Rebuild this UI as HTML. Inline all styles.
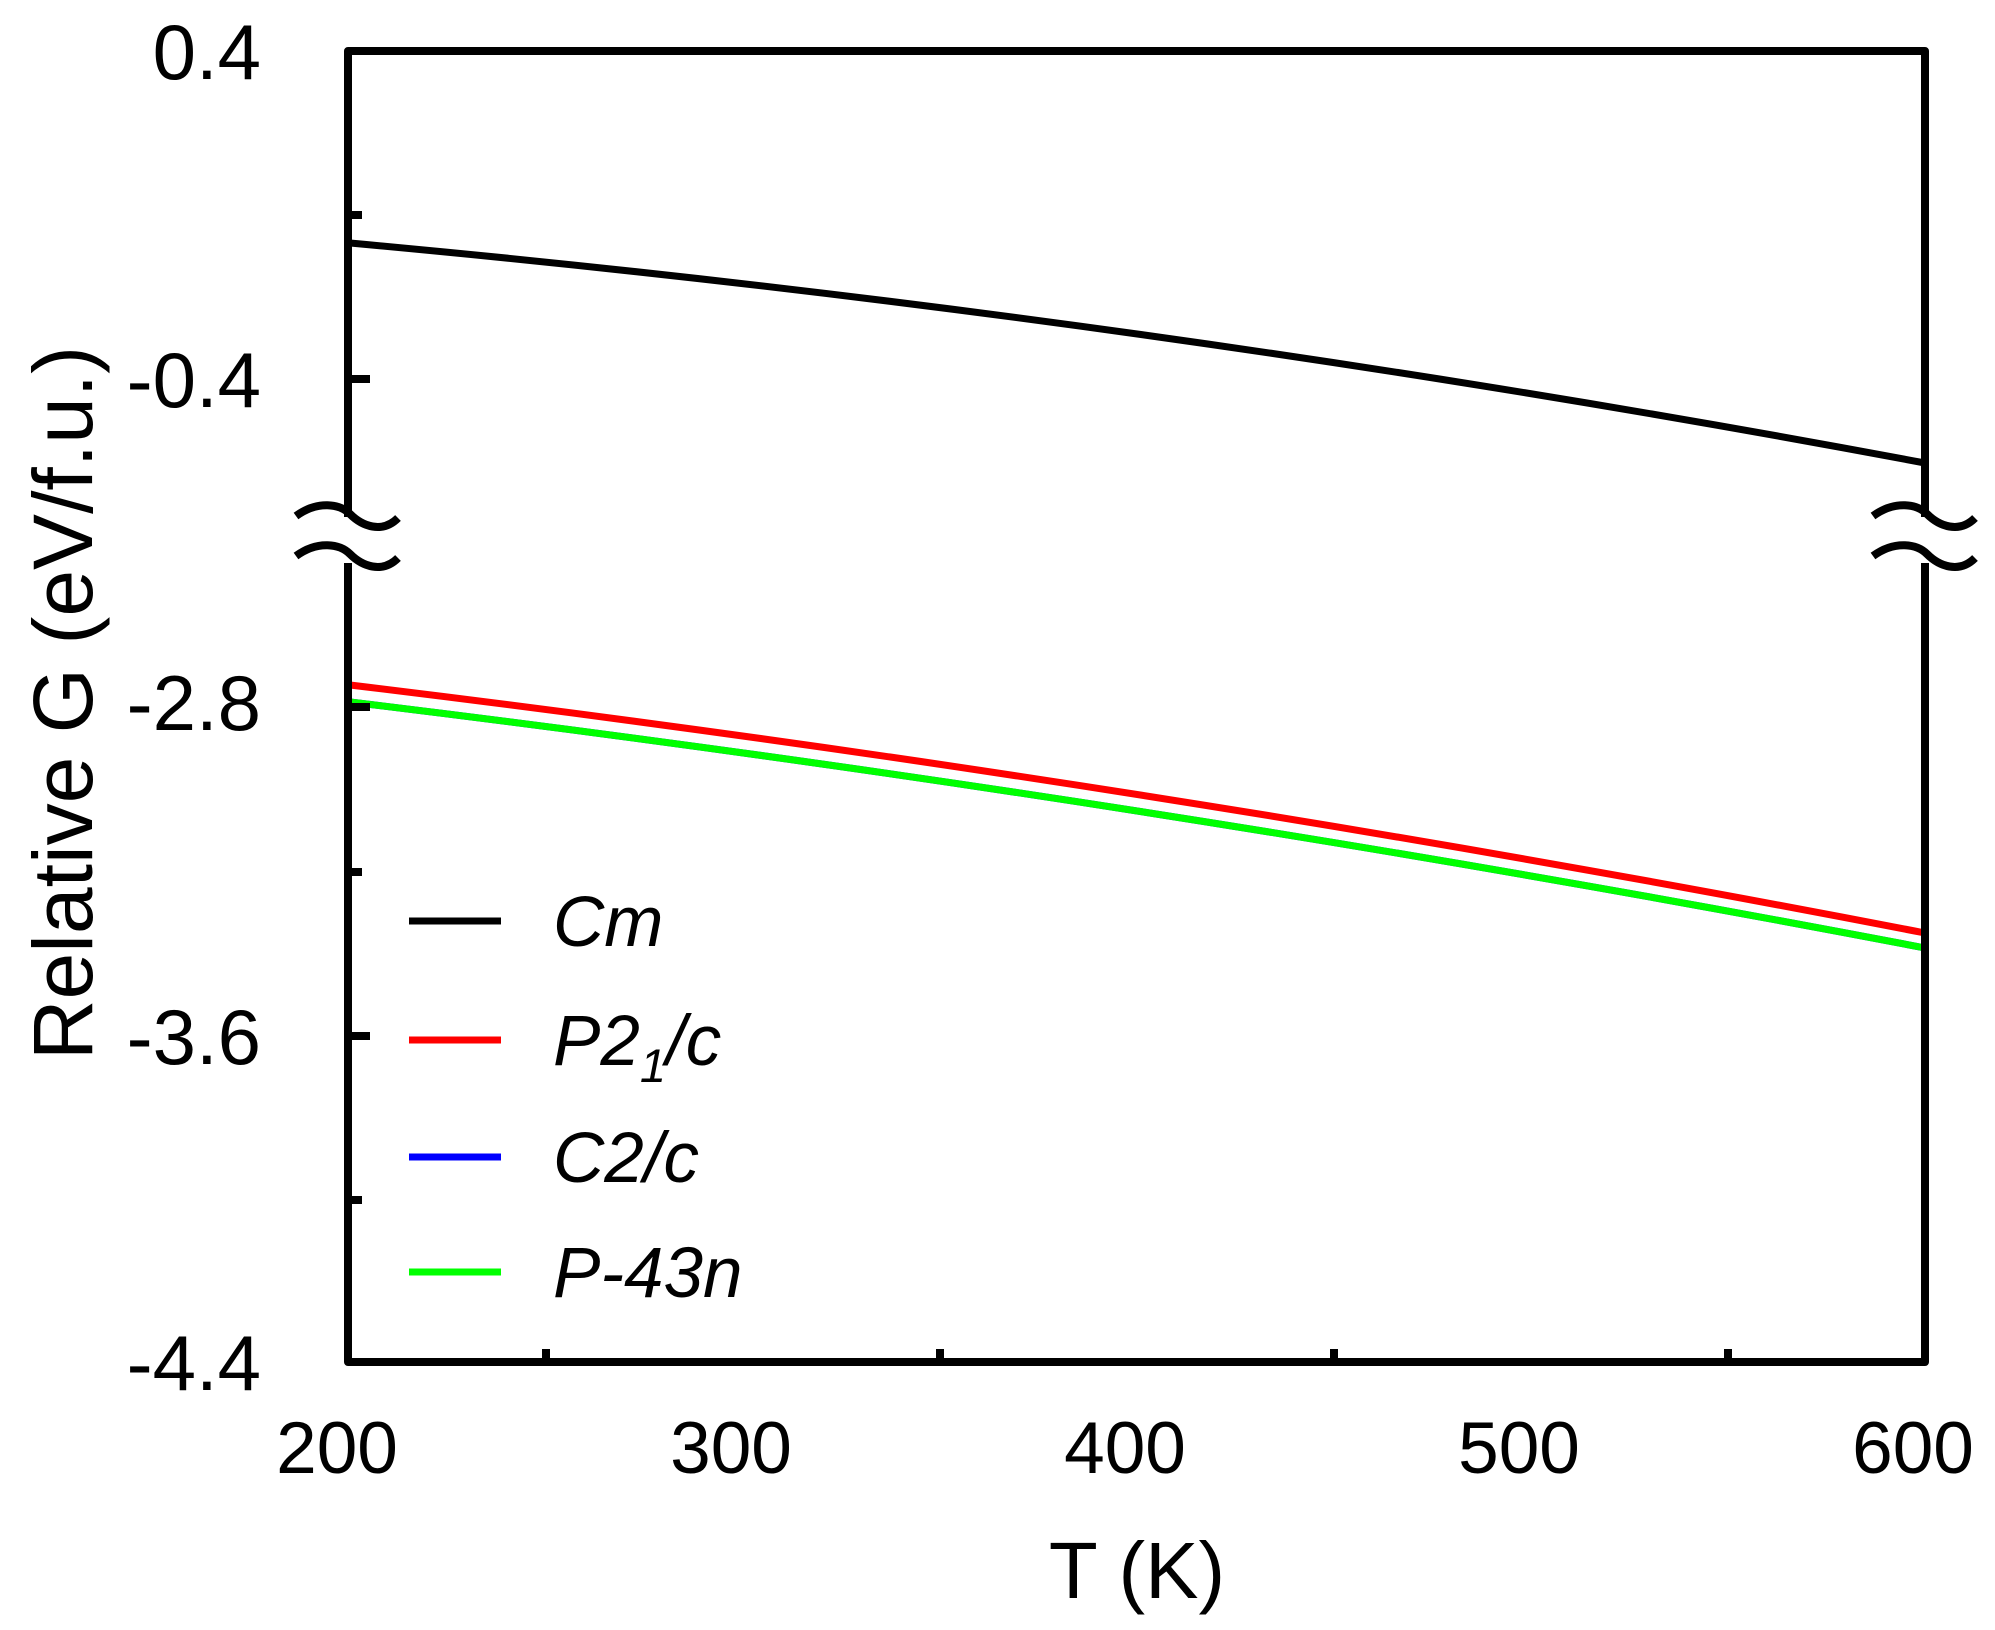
<!DOCTYPE html>
<html><head><meta charset="utf-8"><style>html,body{margin:0;padding:0;background:#fff}svg{display:block}</style></head>
<body>
<svg width="1995" height="1630" viewBox="0 0 1995 1630" xmlns="http://www.w3.org/2000/svg" font-family="Liberation Sans, Arial, sans-serif">
<rect width="1995" height="1630" fill="#fff"/>
<g fill="none" stroke-width="7" stroke-linecap="butt">
<path d="M350,243 Q1137,315 1925,463" stroke="#000"/>
<path d="M350,685 Q1137,780 1925,933" stroke="#ff0000"/>
<path d="M350,702 Q1137,797 1925,948" stroke="#0000ff"/>
<path d="M350,702 Q1137,797 1925,948" stroke="#00ff00"/>
</g>
<g stroke="#000" stroke-width="8" fill="none" stroke-linejoin="round">
<path d="M348,517 L348,51 L1925,51 L1925,517"/>
<path d="M348,563 L348,1362 L1925,1362 L1925,563"/>
<path d="M348,215 H362 M348,379 H370 M348,707 H370 M348,872 H362 M348,1036 H370 M348,1200 H362"/>
<path d="M546,1362 V1349 M940,1362 V1349 M1334,1362 V1349 M1728,1362 V1349"/>
</g>
<g fill="none" stroke="#000" stroke-width="8">
<path d="M296,516 C318,500 340,504 350,514 C362,526 382,534 398,518"/>
<path d="M296,556 C318,540 340,544 350,554 C362,566 382,574 398,558"/>
<path d="M1873,516 C1895,500 1917,504 1927,514 C1939,526 1959,534 1975,518"/>
<path d="M1873,556 C1895,540 1917,544 1927,554 C1939,566 1959,574 1975,558"/>
</g>
<g font-size="73" fill="#000" text-anchor="middle">
<text x="337" y="1473">200</text>
<text x="731" y="1473">300</text>
<text x="1125" y="1473">400</text>
<text x="1519" y="1473">500</text>
<text x="1913" y="1473">600</text>
</g>
<g font-size="78" fill="#000" text-anchor="end">
<text x="261" y="79">0.4</text>
<text x="261" y="407">-0.4</text>
<text x="261" y="730">-2.8</text>
<text x="261" y="1064">-3.6</text>
<text x="261" y="1390">-4.4</text>
</g>
<text x="1137" y="1598" font-size="80" text-anchor="middle">T (K)</text>
<text transform="translate(92,703) rotate(-90)" font-size="84" text-anchor="middle">Relative G (eV/f.u.)</text>
<g stroke-width="7">
<line x1="409" y1="921" x2="501" y2="921" stroke="#000"/>
<line x1="409" y1="1040" x2="501" y2="1040" stroke="#ff0000"/>
<line x1="409" y1="1157" x2="501" y2="1157" stroke="#0000ff"/>
<line x1="409" y1="1272" x2="501" y2="1272" stroke="#00ff00"/>
</g>
<g font-size="71" font-style="italic" fill="#000">
<text x="553" y="946">Cm</text>
<text x="553" y="1065">P2<tspan font-size="47" dy="17">1</tspan><tspan dy="-17">/c</tspan></text>
<text x="553" y="1182">C2/c</text>
<text x="553" y="1297">P-43n</text>
</g>
</svg>
</body></html>
